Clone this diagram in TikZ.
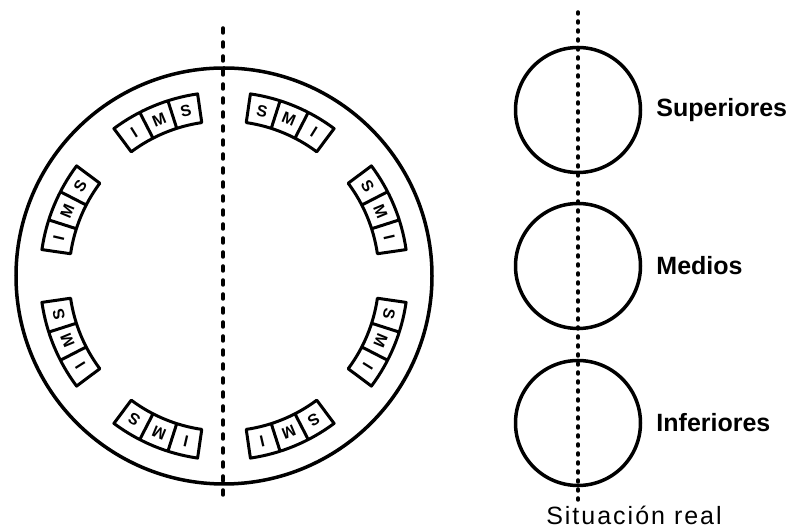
\documentclass[tikz,border=0pt]{standalone}
\usepackage{fontspec}
\setmainfont{Liberation Sans}
\usetikzlibrary{positioning}

\begin{document}
\begin{tikzpicture}[x=1pt, y=1pt,
		rim/.style = {circle,	draw,	line width=3.5pt,	inner sep=0pt},
		cutline/.style = {line width=3.5pt,	line cap=round,	dash pattern=on 5pt off 9pt},
		dotline/.style = {line width=3.5pt,	line cap=round,	dash pattern=on 2pt off 7pt},
		cell/.style = {line width=3pt,	line join=round},
		tag/.style = {font=\bfseries\fontsize{16}{16}\selectfont,	inner sep=0pt},
		lbl/.style = {font=\bfseries\fontsize{25}{25}\selectfont,	inner sep=0pt}
		]
		\useasboundingbox (0, 0) rectangle (796, 532);
		
		%Nodes
		\node[rim, minimum size=416]	(wheel)	at	(224, 256)	{};
		
		\node[rim, minimum size=125]	(sup)	at	(578, 422)	{};
		\node[rim, minimum size=125]	(med)	at	(578, 266)	{};
		\node[rim, minimum size=125]	(inf)	at	(578, 109)	{};
		
		\node[lbl, right=14pt of sup]	(supl)	{Superiores};
		\node[lbl, right=14pt of med]	(medl)	{Medios};
		\node[lbl, right=14pt of inf]	(infl)	{Inferiores};
		
		\node[font=\fontsize{25}{25}\selectfont\addfontfeature{LetterSpace=8}, inner sep=0pt]	(real)	at	(634, 17)	{Situación real};
		
		\coordinate	(wtop)	at	(223, 504);
		\coordinate	(wbot)	at	(223, 29);
		\coordinate	(rtop)	at	(578, 520);
		\coordinate	(rbot)	at	(578, 32);
		
		%Lines
		\draw[cutline]	(wtop)	--	(wbot);
		\draw[dotline]	(rtop)	--	(rbot);
		
		% boxes round the wheel
		\begin{scope}[shift={(wheel.center)}]
		\draw[cell]	(126.75:155) arc[start angle=126.75, end angle=98.25, radius=155] -- (98.25:184) arc[start angle=98.25, end angle=126.75, radius=184] -- cycle (117.25:155) -- (117.25:184) (107.75:155) -- (107.75:184);
		\node[tag, rotate=32]	(tl1)	at	(122:169.5)	{I};
		\node[tag, rotate=22.5]	(tl2)	at	(112.5:169.5)	{M};
		\node[tag, rotate=13]	(tl3)	at	(103:169.5)	{S};
		
		\draw[cell]	(171.75:155) arc[start angle=171.75, end angle=143.25, radius=155] -- (143.25:184) arc[start angle=143.25, end angle=171.75, radius=184] -- cycle (162.25:155) -- (162.25:184) (152.75:155) -- (152.75:184);
		\node[tag, rotate=77]	(lu1)	at	(167:169.5)	{I};
		\node[tag, rotate=67.5]	(lu2)	at	(157.5:169.5)	{M};
		\node[tag, rotate=58]	(lu3)	at	(148:169.5)	{S};
		
		\draw[cell]	(216.75:155) arc[start angle=216.75, end angle=188.25, radius=155] -- (188.25:184) arc[start angle=188.25, end angle=216.75, radius=184] -- cycle (207.25:155) -- (207.25:184) (197.75:155) -- (197.75:184);
		\node[tag, rotate=122]	(ll1)	at	(212:169.5)	{I};
		\node[tag, rotate=112.5]	(ll2)	at	(202.5:169.5)	{M};
		\node[tag, rotate=103]	(ll3)	at	(193:169.5)	{S};
		
		\draw[cell]	(261.75:155) arc[start angle=261.75, end angle=233.25, radius=155] -- (233.25:184) arc[start angle=233.25, end angle=261.75, radius=184] -- cycle (252.25:155) -- (252.25:184) (242.75:155) -- (242.75:184);
		\node[tag, rotate=167]	(bl1)	at	(257:169.5)	{I};
		\node[tag, rotate=157.5]	(bl2)	at	(247.5:169.5)	{M};
		\node[tag, rotate=148]	(bl3)	at	(238:169.5)	{S};
		
		\draw[cell]	(81.75:155) arc[start angle=81.75, end angle=53.25, radius=155] -- (53.25:184) arc[start angle=53.25, end angle=81.75, radius=184] -- cycle (72.25:155) -- (72.25:184) (62.75:155) -- (62.75:184);
		\node[tag, rotate=-13]	(tr1)	at	(77:169.5)	{S};
		\node[tag, rotate=-22.5]	(tr2)	at	(67.5:169.5)	{M};
		\node[tag, rotate=-32]	(tr3)	at	(58:169.5)	{I};
		
		\draw[cell]	(36.75:155) arc[start angle=36.75, end angle=8.25, radius=155] -- (8.25:184) arc[start angle=8.25, end angle=36.75, radius=184] -- cycle (27.25:155) -- (27.25:184) (17.75:155) -- (17.75:184);
		\node[tag, rotate=-58]	(ru1)	at	(32:169.5)	{S};
		\node[tag, rotate=-67.5]	(ru2)	at	(22.5:169.5)	{M};
		\node[tag, rotate=-77]	(ru3)	at	(13:169.5)	{I};
		
		\draw[cell]	(-8.25:155) arc[start angle=-8.25, end angle=-36.75, radius=155] -- (-36.75:184) arc[start angle=-36.75, end angle=-8.25, radius=184] -- cycle (-17.75:155) -- (-17.75:184) (-27.25:155) -- (-27.25:184);
		\node[tag, rotate=-103]	(rl1)	at	(-13:169.5)	{S};
		\node[tag, rotate=-112.5]	(rl2)	at	(-22.5:169.5)	{M};
		\node[tag, rotate=-122]	(rl3)	at	(-32:169.5)	{I};
		
		\draw[cell]	(-53.25:155) arc[start angle=-53.25, end angle=-81.75, radius=155] -- (-81.75:184) arc[start angle=-81.75, end angle=-53.25, radius=184] -- cycle (-62.75:155) -- (-62.75:184) (-72.25:155) -- (-72.25:184);
		\node[tag, rotate=-148]	(br1)	at	(-58:169.5)	{S};
		\node[tag, rotate=-157.5]	(br2)	at	(-67.5:169.5)	{M};
		\node[tag, rotate=-167]	(br3)	at	(-77:169.5)	{I};
		\end{scope}
	\end{tikzpicture}
\end{document}
